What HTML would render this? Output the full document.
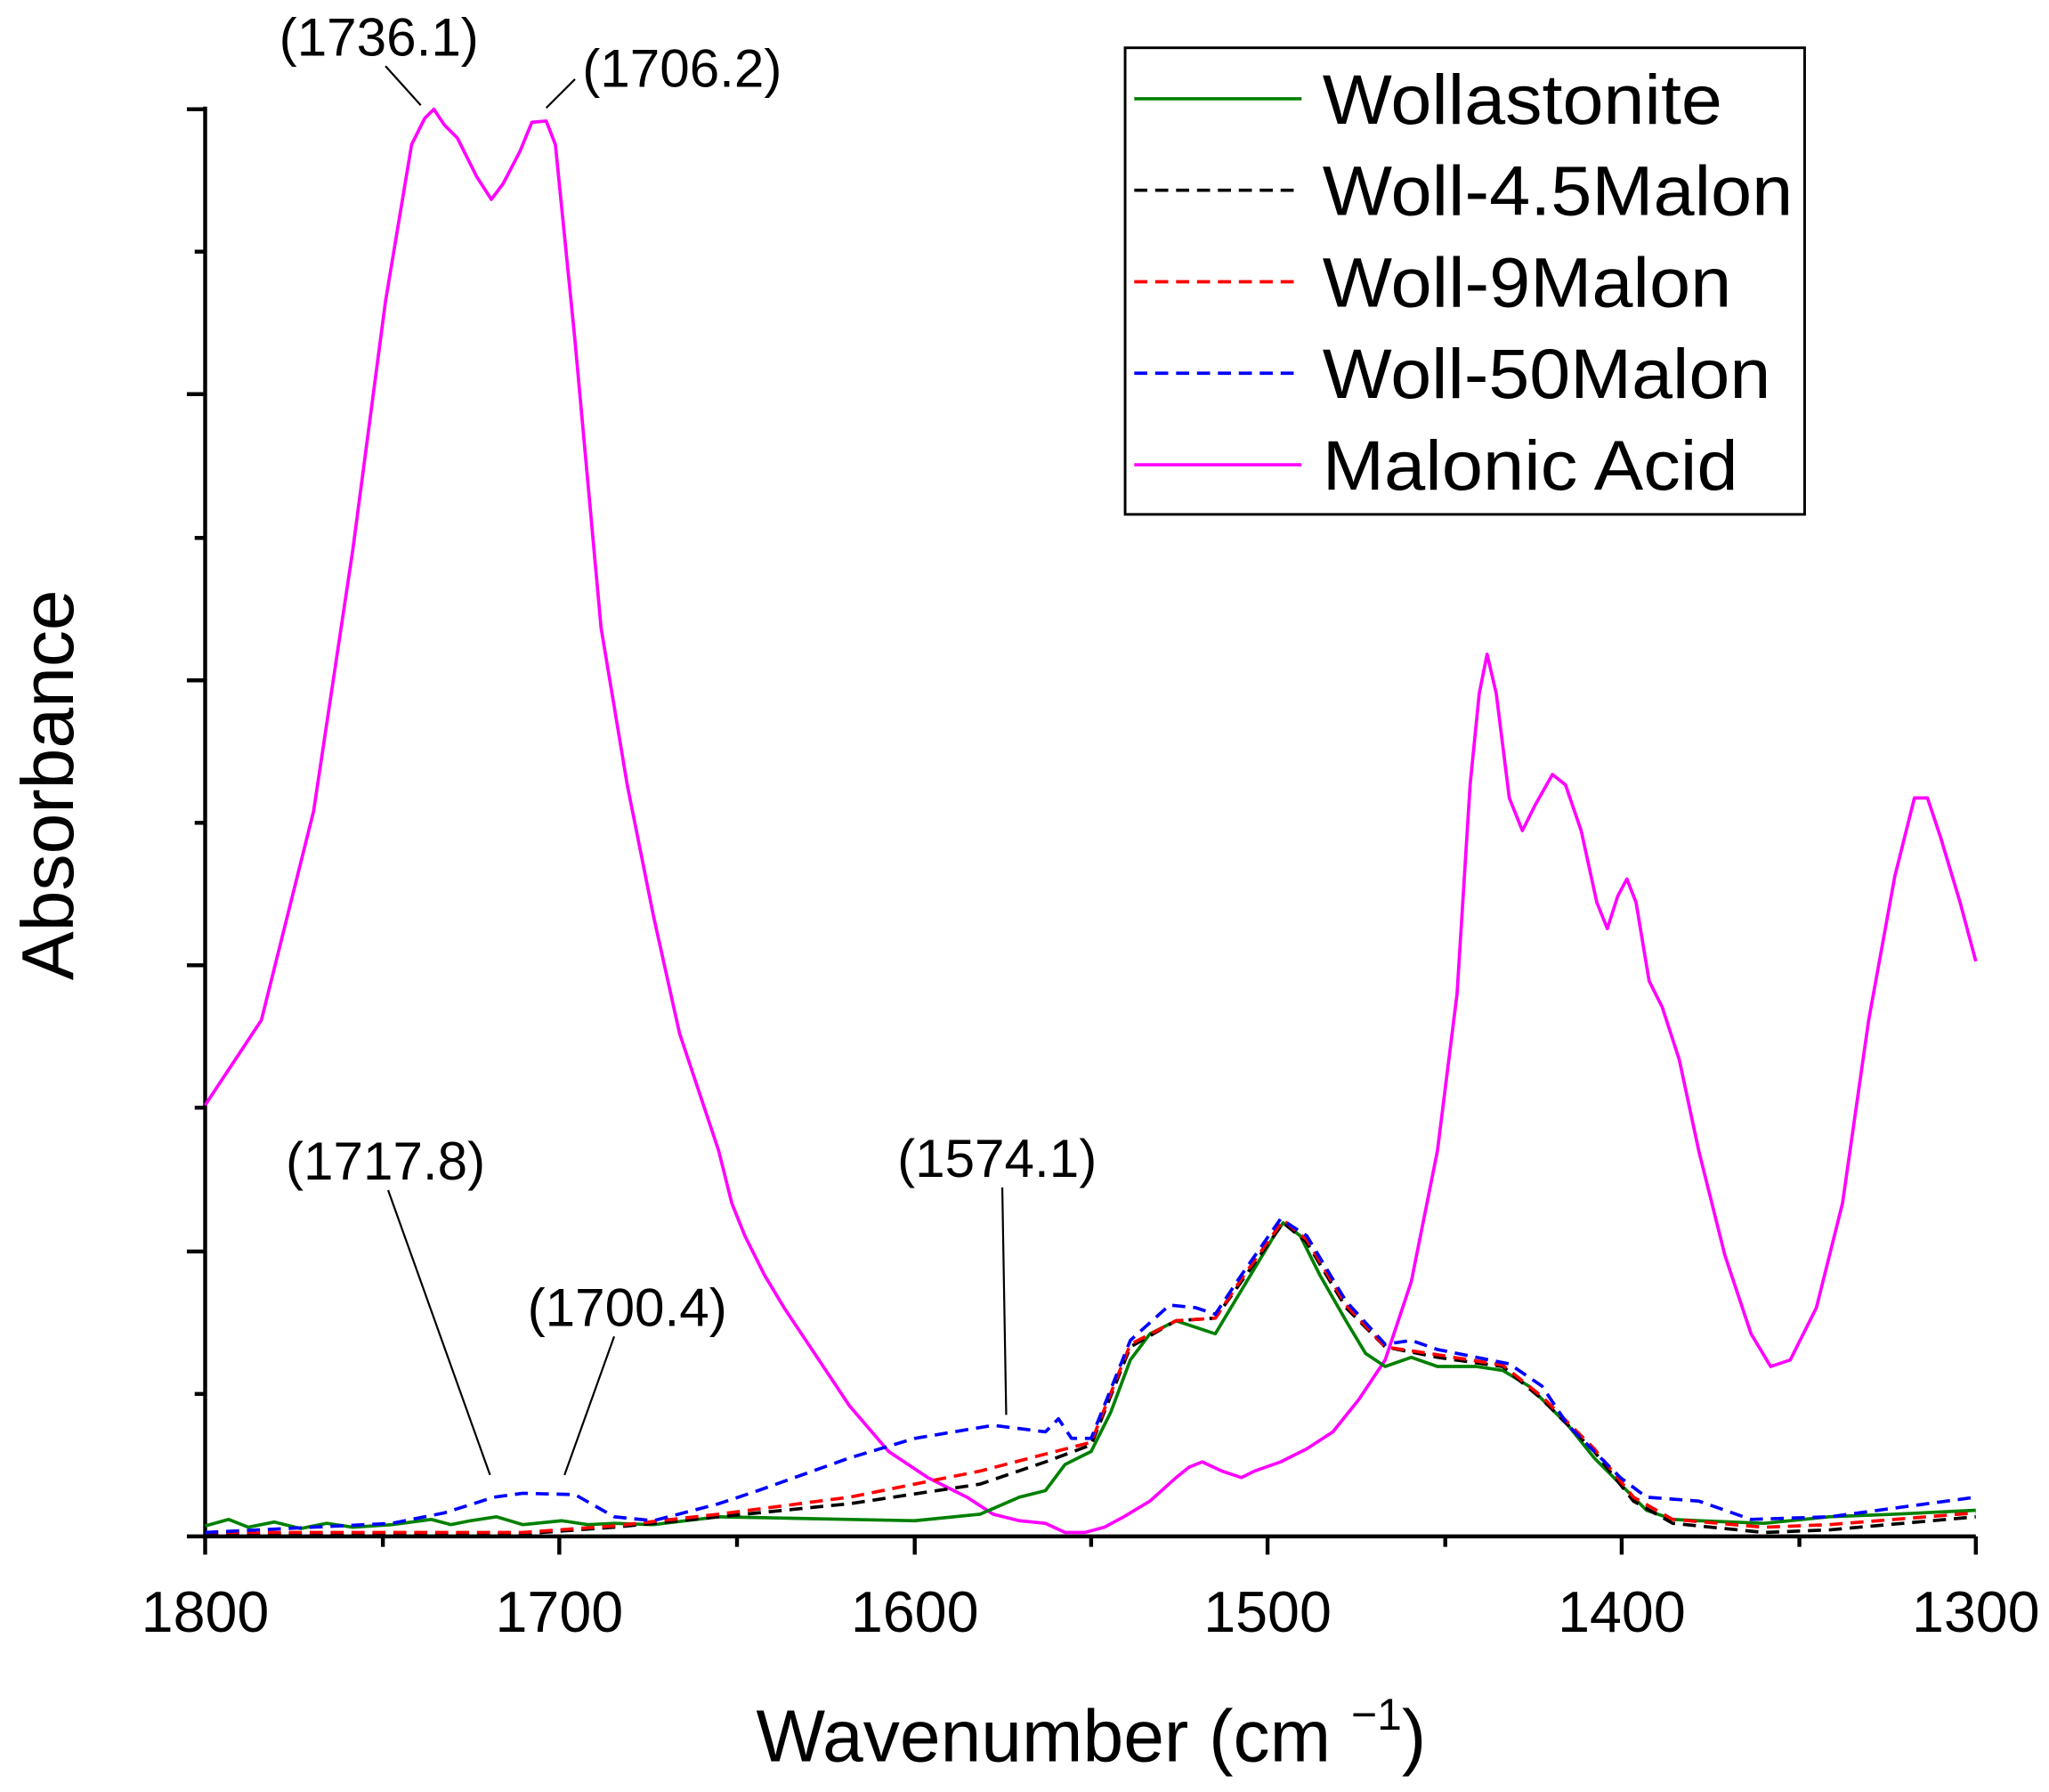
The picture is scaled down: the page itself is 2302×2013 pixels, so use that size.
<!DOCTYPE html>
<html><head><meta charset="utf-8"><style>html,body{margin:0;padding:0;background:#fff}svg{display:block}</style></head><body>
<svg width="2302" height="2013" viewBox="0 0 1568 1370" xmlns="http://www.w3.org/2000/svg" font-family="Liberation Sans, Arial, sans-serif">
<rect width="1568" height="1370" fill="#fff"/>
<g stroke="#000" stroke-width="3" fill="none">
<line x1="157" y1="81" x2="157" y2="1176"/>
<line x1="155" y1="1175" x2="1512" y2="1175"/>
<path d="M143 83H157M143 301H157M143 520H157M143 738H157M143 957H157M143 1175H157M149 192H157M149 411H157M149 629H157M149 847H157M149 1066H157"/>
<path d="M157 1175V1189M428 1175V1189M700 1175V1189M970 1175V1189M1241 1175V1189M1512 1175V1189M293 1175V1183M564 1175V1183M835 1175V1183M1106 1175V1183M1377 1175V1183"/>
</g>
<g font-size="44" text-anchor="middle" fill="#000">
<text x="157" y="1248">1800</text><text x="428" y="1248">1700</text><text x="700" y="1248">1600</text><text x="970" y="1248">1500</text><text x="1241" y="1248">1400</text><text x="1512" y="1248">1300</text>
</g>
<text x="835" y="1347" font-size="56" text-anchor="middle">Wavenumber (cm <tspan dy="-24" font-size="34">−1</tspan><tspan dy="24">)</tspan></text>
<text transform="translate(56,600) rotate(-90)" font-size="56" text-anchor="middle">Absorbance</text>
<g fill="none" stroke-width="2.5" stroke-linejoin="round">
<polyline stroke="#ff00ff" points="157,845 200,780 240,620 270,420 295,230 315,110 325,90 332,83 340,95 350,105 365,135 376,152 385,140 398,115 407,93 418,92 425,110 440,260 460,480 480,600 500,700 520,790 540,850 550,880 560,920 570,945 585,975 600,1000 620,1030 650,1075 680,1110 710,1130 740,1145 760,1158 780,1163 800,1165 815,1172 830,1172 845,1168 860,1160 880,1148 900,1130 910,1122 920,1118 935,1125 950,1130 960,1125 980,1118 1000,1108 1020,1095 1040,1070 1060,1040 1080,980 1100,880 1115,760 1125,600 1132,530 1138,500 1145,530 1155,610 1165,635 1175,615 1188,592 1198,600 1210,635 1222,690 1230,710 1238,685 1245,672 1252,690 1262,750 1272,770 1285,810 1300,880 1320,960 1340,1020 1355,1045 1370,1040 1390,1000 1410,920 1430,780 1450,670 1465,610 1475,610 1485,640 1500,690 1512,735"/>
<polyline stroke="#008000" points="157,1167 175,1162 190,1168 210,1164 230,1169 250,1165 270,1168 300,1166 330,1162 345,1166 360,1163 380,1160 400,1166 430,1163 450,1166 470,1165 500,1166 550,1160 600,1161 650,1162 700,1163 750,1158 780,1145 800,1140 815,1120 835,1110 850,1080 865,1040 880,1020 900,1010 915,1015 930,1020 945,995 960,970 975,945 982,935 995,945 1010,975 1030,1010 1045,1035 1060,1045 1080,1038 1100,1045 1130,1045 1150,1048 1170,1060 1200,1090 1220,1115 1240,1135 1260,1155 1280,1162 1300,1163 1350,1165 1400,1160 1450,1158 1512,1155"/>
<polyline stroke="#000" stroke-dasharray="10,6" points="157,1173 400,1173 470,1168 550,1160 650,1150 750,1135 800,1118 835,1105 865,1030 900,1010 930,1008 950,980 982,935 1000,950 1030,1000 1060,1030 1100,1038 1150,1045 1180,1070 1220,1110 1250,1148 1280,1165 1350,1172 1400,1170 1512,1160"/>
<polyline stroke="#ff0000" stroke-dasharray="10,6" points="157,1172 400,1172 470,1167 550,1158 650,1145 750,1125 800,1112 835,1103 865,1028 900,1010 930,1008 950,978 982,933 1000,948 1030,998 1060,1030 1100,1036 1150,1044 1180,1068 1220,1108 1250,1145 1280,1162 1350,1168 1400,1166 1512,1157"/>
<polyline stroke="#0000ff" stroke-dasharray="10,6" points="157,1172 300,1165 340,1157 378,1145 400,1142 440,1143 470,1160 500,1163 550,1150 580,1140 650,1115 700,1100 760,1090 800,1095 810,1085 820,1100 835,1100 865,1025 895,998 915,1000 930,1005 950,975 980,932 1000,945 1030,995 1060,1028 1080,1025 1100,1032 1155,1043 1180,1060 1200,1090 1240,1130 1260,1145 1300,1148 1340,1162 1400,1160 1512,1145"/>
</g>
<g stroke="#000" stroke-width="1.5">
<line x1="295" y1="50" x2="322" y2="80"/><line x1="440" y1="60" x2="418" y2="82"/>
<line x1="297" y1="910" x2="375" y2="1128"/><line x1="470" y1="1022" x2="432" y2="1128"/><line x1="767" y1="908" x2="770" y2="1082"/>
</g>
<g font-size="41" text-anchor="middle">
<text x="290" y="42">(1736.1)</text><text x="522" y="66">(1706.2)</text>
<text x="295" y="902">(1717.8)</text><text x="480" y="1014">(1700.4)</text><text x="763" y="900">(1574.1)</text>
</g>
<rect x="861" y="36" width="520" height="357" fill="#fff" stroke="#000" stroke-width="2"/>
<g stroke-width="2.5">
<line x1="868" y1="75" x2="996" y2="75" stroke="#008000"/>
<line x1="868" y1="145" x2="996" y2="145" stroke="#000" stroke-dasharray="10,6"/>
<line x1="868" y1="215" x2="996" y2="215" stroke="#ff0000" stroke-dasharray="10,6"/>
<line x1="868" y1="285" x2="996" y2="285" stroke="#0000ff" stroke-dasharray="10,6"/>
<line x1="868" y1="355" x2="996" y2="355" stroke="#ff00ff"/>
</g>
<g font-size="54">
<text x="1012" y="94" textLength="306" lengthAdjust="spacingAndGlyphs">Wollastonite</text>
<text x="1012" y="164" textLength="360" lengthAdjust="spacingAndGlyphs">Woll-4.5Malon</text>
<text x="1012" y="234" textLength="313" lengthAdjust="spacingAndGlyphs">Woll-9Malon</text>
<text x="1012" y="304" textLength="343" lengthAdjust="spacingAndGlyphs">Woll-50Malon</text>
<text x="1012" y="374" textLength="318" lengthAdjust="spacingAndGlyphs">Malonic Acid</text>
</g>
</svg>
</body></html>
